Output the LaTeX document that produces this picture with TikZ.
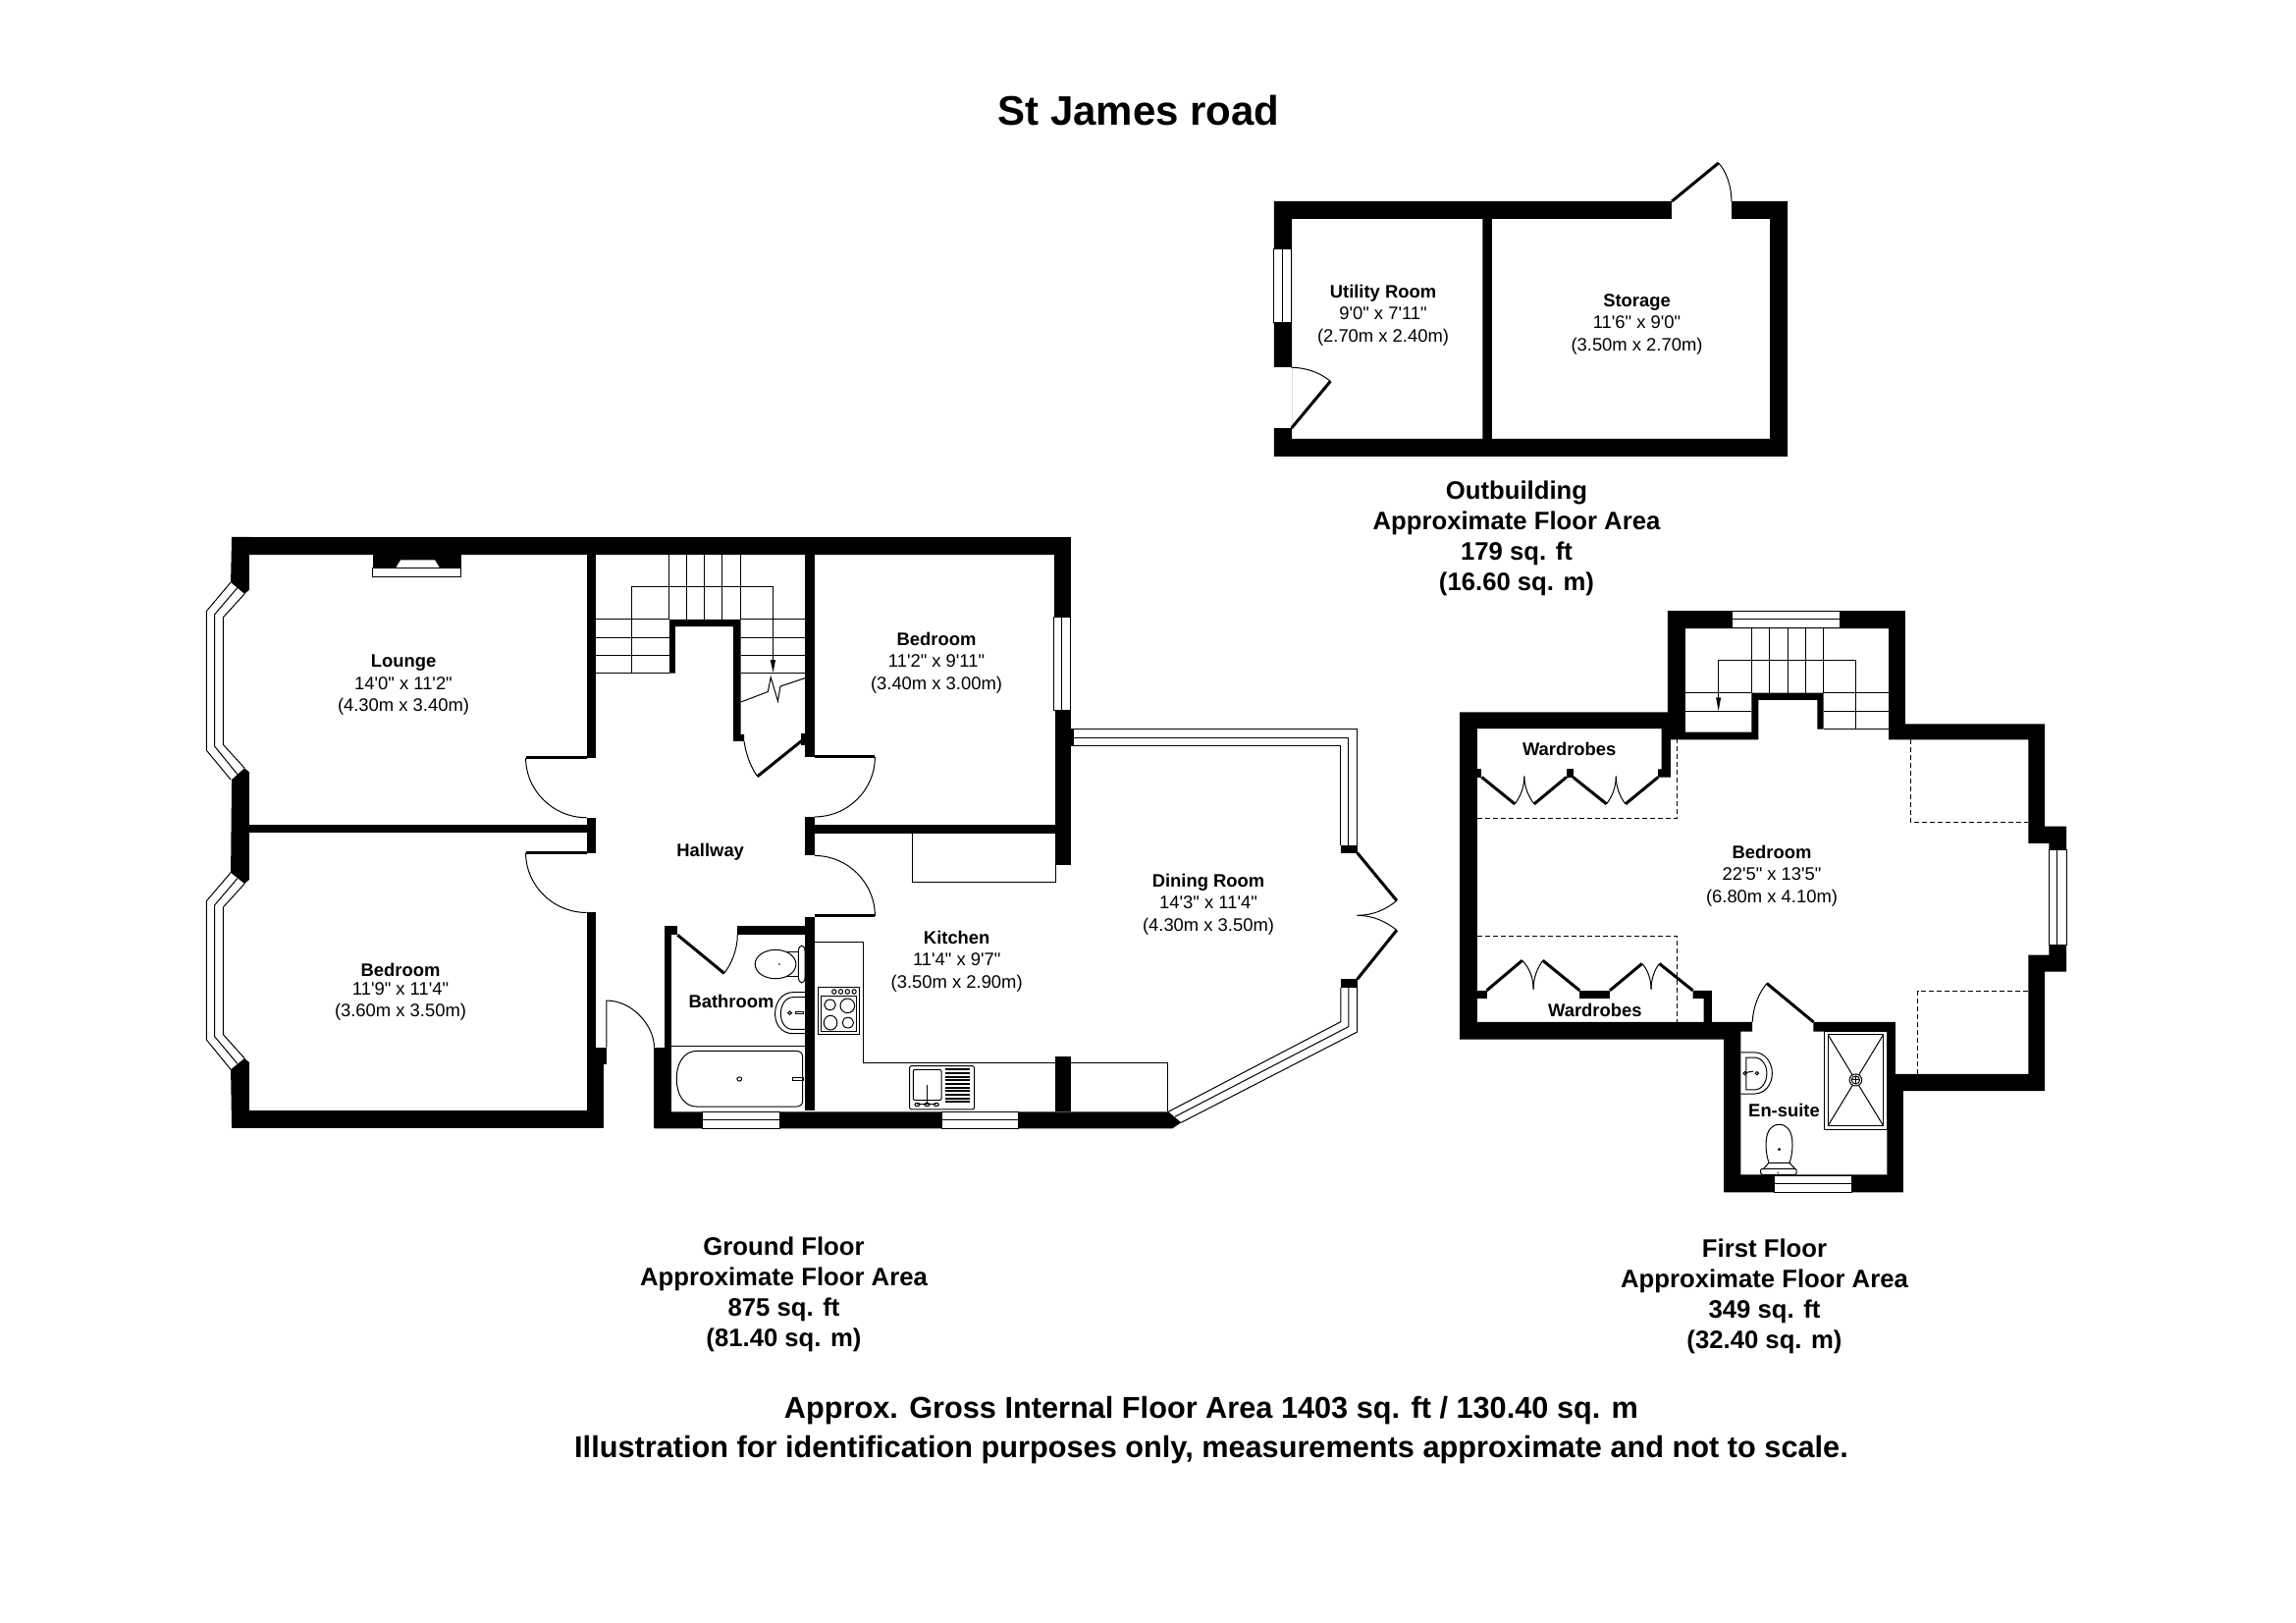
\documentclass[tikz,border=0pt]{standalone}
\usepackage{fontspec}
\newfontfamily\planfont{Liberation Sans}
\tikzset{
  wall/.style={fill=black, draw=none},
  fine/.style={line width=1pt},
  leaf/.style={line width=3pt},
  stub/.style={dashed, line width=.8pt, dash pattern=on 5pt off 3pt},
  pane/.style={fill=white, draw=black, line width=1pt},
  roomlabel/.style={font=\planfont\fontsize{18.4}{22.5}\selectfont, align=center, inner sep=0pt},
  arealabel/.style={font=\planfont\bfseries\fontsize{25.7}{31}\selectfont, align=center, inner sep=0pt},
  notelabel/.style={font=\planfont\bfseries\fontsize{30.7}{40}\selectfont, align=center, inner sep=0pt},
  groundleft/.style={shift={(190,530)}, xscale=.4847, yscale=.4205},
  groundright/.style={shift={(640,700)}, xscale=.523, yscale=.3333},
  firstfloor/.style={shift={(1480,610)}, xscale=.4209, yscale=.4016},
  outbuilding/.style={shift={(1290,160)}, xscale=.3571, yscale=.3333},
}
\begin{document}
\begin{tikzpicture}[x=1pt, y=-1pt]
  \useasboundingbox (0,0) rectangle (2339,1653);
  \begin{scope}[groundleft]
    \fill[wall] (95,40) rectangle (1858,83);
    \fill[wall] (95,40) -- (132,40) -- (132,168) -- (122,178) -- (93,150) -- cycle;
    \fill[wall] (95,628) -- (122,600) -- (132,610) -- (132,870) -- (122,880) -- (93,853) -- cycle;
    \fill[wall] (93,1330) -- (122,1303) -- (132,1313) -- (132,1472) -- (95,1472) -- cycle;
    \fill[wall] (132,737) rectangle (841,757);
    \fill[wall] (95,1430) rectangle (877,1472);
    \fill[wall] (841,83) rectangle (860,575);
    \fill[wall] (841,720) rectangle (860,805);
    \fill[wall] (841,950) rectangle (860,1430);
    \fill[wall] (860,1276) rectangle (883,1318);
    \fill[wall] (860,1318) rectangle (877,1430);
    \fill[wall] (983,1276) rectangle (1020,1472);
    \fill[wall] (1004,982) rectangle (1020,1276);
    \fill[wall] (1004,982) rectangle (1032,1004);
    \fill[wall] (1158,982) rectangle (1300,1004);
    \fill[wall] (1300,83) rectangle (1320,573);
    \fill[wall] (1300,718) rectangle (1320,812);
    \fill[wall] (1300,960) rectangle (1320,1430);
    \fill[wall] (1292,516) rectangle (1300,545);
    \fill[wall] (1823,40) rectangle (1858,235);
    \fill[wall] (1015,370) -- (1015,240) -- (1165,240) -- (1165,518) -- (1172,518) -- (1172,535)
      -- (1149,535) -- (1149,257) -- (1027,257) -- (1027,370) -- cycle;
    \draw[pane] (1823,235) rectangle (1858,459);
    \draw[fine] (1840,235) -- (1840,459);
    % bays
    \draw[fine] (93,150) -- (42,220) -- (42,557) -- (93,628);
    \draw[fine] (107,163) -- (59,228) -- (59,547) -- (107,615);
    \draw[fine] (122,178) -- (77,235) -- (77,543) -- (122,600);
    \draw[fine] (93,853) -- (42,922) -- (42,1258) -- (93,1330);
    \draw[fine] (107,867) -- (59,932) -- (59,1250) -- (107,1316);
    \draw[fine] (122,880) -- (77,937) -- (77,1245) -- (122,1303);
    % fireplace
    \fill[wall] (391,83) rectangle (577,115);
    \fill[white] (440,115) -- (450,96) -- (522,96) -- (532,115) -- cycle;
    \draw[pane] (391,115) rectangle (577,136);
    % stairs
    \foreach \xs in {1015,1052,1088,1125,1165}
      \draw[fine] (\xs,83) -- (\xs,240);
    \foreach \ys in {240,284,327,370} {
      \draw[fine] (860,\ys) -- (1015,\ys);
      \draw[fine] (1165,\ys) -- (1300,\ys);
    }
    \draw[fine] (936,370) -- (936,160) -- (1232,160) -- (1232,340);
    \fill[wall] (1227,338) -- (1238,338) -- (1233,368) -- cycle;
    \draw[fine] (1165,440) -- (1222,415) -- (1228,380) -- (1243,438) -- (1248,402) -- (1300,382);
    % doors
    \draw[leaf] (713,575) -- (841,575);
    \draw[fine] (713,575) .. controls (713,655) and (771,720) .. (841,720);
    \draw[leaf] (713,805) -- (841,805);
    \draw[fine] (713,805) .. controls (713,885) and (771,950) .. (841,950);
    \draw[leaf] (1320,573) -- (1447,573);
    \draw[fine] (1447,573) .. controls (1447,653) and (1390,718) .. (1320,718);
    \draw[leaf] (1320,958) -- (1447,958);
    \draw[fine] (1320,812) .. controls (1390,812) and (1447,878) .. (1447,958);
    \draw[fine] (883,1276) -- (883,1163) .. controls (938,1163) and (983,1225) .. (983,1276);
    \draw[leaf] (1200,620) -- (1295,532);
    \draw[fine] (1172,535) .. controls (1177,575) and (1190,605) .. (1200,620);
    \draw[leaf] (1032,1004) -- (1130,1097);
    \draw[fine] (1158,1004) .. controls (1158,1040) and (1145,1075) .. (1130,1097);
    % bathroom
    \draw[fine] (1020,1274) -- (1300,1274);
    \draw[fine] (1073,1285) -- (1280,1285) .. controls (1290,1285) and (1295,1290) .. (1295,1300)
      -- (1295,1405) .. controls (1295,1415) and (1290,1420) .. (1280,1420) -- (1073,1420)
      .. controls (1045,1420) and (1030,1390) .. (1030,1352) .. controls (1030,1315) and (1045,1285) .. (1073,1285) -- cycle;
    \draw[fine] (1162,1353) circle (5);
    \draw[fine] (1275,1350) rectangle (1297,1356);
    \draw[fine] (1238,1075) ellipse (43 and 35);
    \draw[fine] (1262,1046) -- (1286,1046) -- (1286,1104) -- (1262,1104);
    \draw[fine] (1286,1045) .. controls (1286,1025) and (1300,1025) .. (1300,1045) -- (1300,1105)
      .. controls (1300,1125) and (1286,1125) .. (1286,1105) -- cycle;
    \fill (1246,1075) circle (2);
    \draw[fine] (1300,1143) -- (1275,1143) .. controls (1250,1143) and (1237,1170) .. (1237,1195)
      .. controls (1237,1220) and (1250,1243) .. (1275,1243) -- (1300,1243);
    \draw[fine] (1300,1155) -- (1275,1155) .. controls (1258,1155) and (1249,1175) .. (1249,1195)
      .. controls (1249,1215) and (1258,1233) .. (1275,1233) -- (1300,1233);
    \draw[fine] (1268,1193) circle (4);
    \draw[fine] (1280,1190) rectangle (1297,1196);
  \end{scope}
  \begin{scope}[groundright]
    \fill[wall] (832,70) rectangle (862,542);
    \fill[wall] (862,128) rectangle (868,178);
    \fill[wall] (345,420) rectangle (832,447);
    \fill[wall] (832,1128) rectangle (862,1297);
    \fill[wall] (52,1297) -- (1052,1297) -- (1077,1330) -- (1060,1348) -- (52,1348) -- cycle;
    \draw[pane] (145,1299) rectangle (295,1348);
    \draw[fine] (145,1322) -- (295,1322);
    \draw[pane] (610,1299) rectangle (760,1348);
    \draw[fine] (610,1322) -- (760,1322);
    % conservatory
    \draw[fine] (862,128) -- (1420,128) -- (1420,483);
    \draw[fine] (862,153) -- (1403,153) -- (1403,483);
    \draw[fine] (862,178) -- (1388,178) -- (1388,483);
    \fill[wall] (1388,483) rectangle (1420,506);
    \fill[wall] (1388,892) rectangle (1420,918);
    \draw[fine] (1420,918) -- (1420,1053) -- (1077,1330);
    \draw[fine] (1403,918) -- (1403,1037) -- (1065,1312);
    \draw[fine] (1388,918) -- (1388,1022) -- (1052,1297);
    \draw[leaf] (1420,506) -- (1497,652);
    \draw[leaf] (1420,892) -- (1497,742);
    \draw[fine] (1497,652) .. controls (1475,680) and (1450,697) .. (1420,697);
    \draw[fine] (1497,742) .. controls (1475,715) and (1450,697) .. (1420,697);
    % kitchen
    \draw[fine] (554,447) -- (554,595) -- (832,595) -- (832,542);
    \draw[fine] (362,778) -- (458,778) -- (458,1147) -- (832,1147);
    \draw[fine] (862,1147) -- (1051,1147) -- (1051,1297);
    \draw[fine] (370,916) rectangle (450,1060);
    \draw[fine] (375,945) rectangle (445,1053);
    \foreach \xs in {401,414,427,440}
      \draw[fine] (\xs,930) ellipse (4 and 7);
    \draw[fine] (393,970) ellipse (11 and 16);
    \draw[fine] (427,973) ellipse (14 and 22);
    \draw[fine] (394,1025) ellipse (13 and 22);
    \draw[fine] (428,1025) ellipse (11 and 16);
    \draw[fine, rounded corners=2pt] (548,1157) rectangle (674,1290);
    \draw[fine, rounded corners=2pt] (555,1168) rectangle (610,1262);
    \foreach \ys in {1168,1179,...,1268}
      \draw[line width=2pt] (618,\ys) -- (666,\ys);
    \draw[line width=1.6pt] (582,1215) -- (582,1275);
    \draw[fine] (563,1275) -- (600,1275);
    \foreach \xs in {563,582,600}
      \draw[fine] (\xs,1275) circle (5);
  \end{scope}
  \begin{scope}[outbuilding]
    \fill[wall, even odd rule] (22,135) rectangle (1487,915)
      (73,189) rectangle (617,861)
      (644,189) rectangle (1437,861);
    \fill[white] (1157,125) rectangle (1327,189.5);
    \fill[white] (12,643) rectangle (73.5,828);
    \draw[pane] (22,282) rectangle (72,507);
    \draw[fine] (47,282) -- (47,507);
    \draw[leaf] (72,828) -- (183,685);
    \draw[fine] (72,643) .. controls (115,643) and (155,660) .. (183,685);
    \draw[leaf] (1157,135) -- (1290,18);
    \draw[fine] (1290,18) .. controls (1310,40) and (1327,85) .. (1327,135);
  \end{scope}
  \begin{scope}[firstfloor]
    \fill[wall, even odd rule]
      (17,287) -- (520,287) -- (520,30) -- (1095,30) -- (1095,317) -- (1433,317) -- (1433,577)
      -- (1485,577) -- (1485,945) -- (1433,945) -- (1433,1248) -- (1090,1248) -- (1090,1505)
      -- (656,1505) -- (656,1117) -- (17,1117) -- cycle
      (1055,357) -- (1055,75) -- (563,75) -- (563,338) -- (723,338) -- (723,238) -- (897,238)
      -- (897,330) -- (882,330) -- (882,256) -- (740,256) -- (740,357) -- (527,357) -- (527,452)
      -- (497,452) -- (497,432) -- (505,432) -- (505,329) -- (59,329) -- (59,1073) -- (607,1073)
      -- (607,1013) -- (581,1013) -- (581,993) -- (627,993) -- (627,1073) -- (725,1073)
      -- (725,1097) -- (697,1097) -- (697,1460) -- (1051,1460) -- (1051,1097) -- (873,1097)
      -- (873,1073) -- (1071,1073) -- (1071,1205) -- (1393,1205) -- (1393,903) -- (1443,903)
      -- (1443,620) -- (1393,620) -- (1393,357) -- cycle;
    \fill[wall] (59,432) rectangle (70,452);
    \fill[wall] (275,432) rectangle (291,452);
    \fill[wall] (59,993) rectangle (82,1013);
    \fill[wall] (307,993) rectangle (380,1013);
    \draw[pane] (675,30) rectangle (937,73);
    \draw[fine] (675,50) -- (937,50);
    \draw[pane] (778,1462) rectangle (965,1505);
    \draw[fine] (778,1482) -- (965,1482);
    \draw[pane] (1443,637) rectangle (1485,877);
    \draw[fine] (1463,637) -- (1463,877);
    % stairs
    \foreach \xs in {723,766,811,854,897}
      \draw[fine] (\xs,75) -- (\xs,238);
    \draw[fine] (563,238) -- (723,238);
    \draw[fine] (563,285) -- (723,285);
    \draw[fine] (897,238) -- (1055,238);
    \draw[fine] (897,285) -- (1055,285);
    \draw[fine] (897,330) -- (1055,330);
    \draw[fine] (642,250) -- (642,155) -- (975,155) -- (975,330);
    \fill[wall] (637,250) -- (649,250) -- (643,284) -- cycle;
    % wardrobes
    \draw[stub] (59,556) -- (543,556) -- (543,357);
    \draw[stub] (59,855) -- (543,855) -- (543,1073);
    \draw[stub] (1108,357) -- (1108,566) -- (1393,566);
    \draw[stub] (1125,1205) -- (1125,994) -- (1393,994);
    \draw[leaf] (70,452) -- (150,520);
    \draw[leaf] (197,520) -- (275,452);
    \draw[leaf] (291,452) -- (372,520);
    \draw[leaf] (418,520) -- (497,452);
    \draw[fine] (150,520) .. controls (165,500) and (173,475) .. (173,450);
    \draw[fine] (197,520) .. controls (182,500) and (173,475) .. (173,450);
    \draw[fine] (372,520) .. controls (387,500) and (395,475) .. (395,450);
    \draw[fine] (418,520) .. controls (403,500) and (395,475) .. (395,450);
    \draw[leaf] (82,993) -- (168,917);
    \draw[leaf] (218,917) -- (307,993);
    \draw[leaf] (380,993) -- (458,925);
    \draw[leaf] (500,925) -- (581,993);
    \draw[fine] (168,917) .. controls (185,935) and (195,960) .. (195,990);
    \draw[fine] (218,917) .. controls (205,935) and (195,960) .. (195,990);
    \draw[fine] (458,925) .. controls (472,940) and (480,965) .. (480,990);
    \draw[fine] (500,925) .. controls (488,940) and (480,965) .. (480,990);
    % en-suite
    \draw[leaf] (760,975) -- (873,1073);
    \draw[fine] (725,1073) .. controls (727,1035) and (740,1000) .. (760,975);
    \draw[fine] (899,1097) rectangle (1051,1345);
    \draw[fine] (908,1105) rectangle (1042,1336);
    \draw[fine] (908,1105) -- (1042,1336);
    \draw[fine] (1042,1105) -- (908,1336);
    \draw[pane] (975,1220) circle (15);
    \draw[fine] (975,1220) circle (10);
    \draw[fine] (965,1220) -- (985,1220);
    \draw[fine] (975,1210) -- (975,1230);
    \draw[fine] (697,1150) -- (730,1150) .. controls (755,1150) and (773,1175) .. (773,1203)
      .. controls (773,1232) and (755,1255) .. (730,1255) -- (697,1255);
    \draw[fine] (710,1163) -- (730,1163) .. controls (748,1163) and (760,1182) .. (760,1203)
      .. controls (760,1225) and (748,1245) .. (730,1245) -- (710,1245) -- cycle;
    \draw[fine] (707,1203) circle (4);
    \draw[fine] (736,1203) circle (4);
    \draw[fine] (711,1201) -- (727,1198);
    \draw[fine] (765,1430) .. controls (755,1400) and (750,1333) .. (790,1333)
      .. controls (830,1333) and (825,1400) .. (815,1430) -- cycle;
    \fill (790,1396) circle (4);
    \draw[fine] (765,1430) -- (752,1445);
    \draw[fine] (815,1430) -- (828,1445);
    \draw[fine, rounded corners=2pt] (745,1445) rectangle (832,1460);
    \fill (787,1455) circle (2);
  \end{scope}
  \node[font=\planfont\bfseries\fontsize{42}{50}\selectfont, inner sep=0pt] (title) at (1160,112) {St James road};
  \node[roomlabel] (lounge) at (411,698) {\textbf{Lounge}\\14'0" x 11'2"\\(4.30m x 3.40m)};
  \node[roomlabel] (bedroomfront) at (408,1010) {\textbf{Bedroom}\\[-3.5pt]11'9" x 11'4"\\(3.60m x 3.50m)};
  \node[roomlabel] (bedroomback) at (954,675) {\textbf{Bedroom}\\11'2" x 9'11"\\(3.40m x 3.00m)};
  \node[roomlabel] (hallway) at (723.7,867.5) {\textbf{Hallway}};
  \node[roomlabel] (bathroom) at (745,1020) {\textbf{Bathroom}};
  \node[roomlabel] (kitchen) at (974.7,979) {\textbf{Kitchen}\\11'4" x 9'7"\\(3.50m x 2.90m)};
  \node[roomlabel] (dining) at (1231,921) {\textbf{Dining Room}\\14'3" x 11'4"\\(4.30m x 3.50m)};
  \node[roomlabel] (utility) at (1409,321) {\textbf{Utility Room}\\9'0" x 7'11"\\(2.70m x 2.40m)};
  \node[roomlabel] (storage) at (1667.5,330) {\textbf{Storage}\\11'6" x 9'0"\\(3.50m x 2.70m)};
  \node[roomlabel] (wardrobesup) at (1598.7,763) {\textbf{Wardrobes}};
  \node[roomlabel] (wardrobesdown) at (1624.8,1029) {\textbf{Wardrobes}};
  \node[roomlabel] (bedroomupper) at (1805,892) {\textbf{Bedroom}\\22'5" x 13'5"\\(6.80m x 4.10m)};
  \node[roomlabel] (ensuite) at (1817.5,1131) {\textbf{En-suite}};
  \node[arealabel] (areaout) at (1545,548) {Outbuilding\\Approximate Floor Area\\179 sq. ft\\(16.60 sq. m)};
  \node[arealabel] (areaground) at (798.5,1318) {Ground Floor\\Approximate Floor Area\\875 sq. ft\\(81.40 sq. m)};
  \node[arealabel] (areafirst) at (1797.5,1320) {First Floor\\Approximate Floor Area\\349 sq. ft\\(32.40 sq. m)};
  \node[notelabel] (note) at (1234,1457) {Approx. Gross Internal Floor Area 1403 sq. ft / 130.40 sq. m\\Illustration for identification purposes only, measurements approximate and not to scale.};
\end{tikzpicture}
\end{document}
